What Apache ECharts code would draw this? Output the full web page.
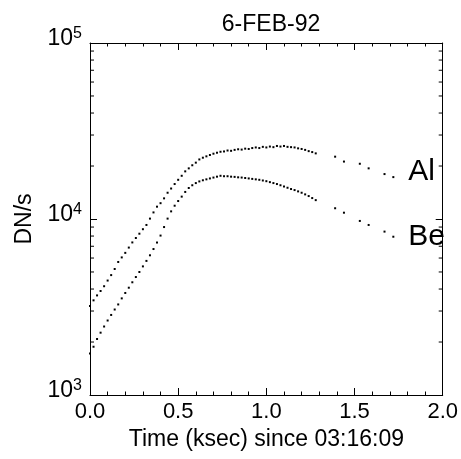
<!DOCTYPE html>
<html>
<head>
<meta charset="utf-8">
<script src="https://cdn.jsdelivr.net/npm/echarts@6/dist/echarts.min.js"></script>
<style>
html,body{margin:0;padding:0;background:#fff;}
#c{width:461px;height:459px;}
</style>
</head>
<body>
<div id="c"></div>
<script>
// ---- data ----
var timeDense = [0.00,0.02,0.04,0.06,0.08,0.10,0.12,0.14,0.16,0.18,0.20,0.22,0.24,0.26,0.28,0.30,0.32,0.34,0.36,0.38,0.40,0.42,0.44,0.46,0.48,0.50,0.52,0.54,0.56,0.58,0.60,0.62,0.64,0.66,0.68,0.70,0.72,0.74,0.76,0.78,0.80,0.82,0.84,0.86,0.88,0.90,0.92,0.94,0.96,0.98,1.00,1.02,1.04,1.06,1.08,1.10,1.12,1.14,1.16,1.18,1.20,1.22,1.24,1.26,1.28];
var timeSparse = [1.39,1.44,1.53,1.58,1.67,1.72];
var alDense = [3200,3450,3680,3900,4150,4470,4800,5200,5700,6050,6420,6880,7360,7800,8250,8750,9250,10050,10900,11750,12300,13100,14100,14900,15800,16700,17600,18650,19400,20200,20900,21800,22300,22700,23100,23500,23800,24100,24200,24500,24400,24700,24900,24800,25100,25000,25300,25500,25300,25700,25500,25800,25600,26000,25800,26000,25700,25600,25500,25200,25000,24700,24300,24000,23600];
var alSparse = [22600,21200,20600,19400,18000,17300];
var beDense = [1720,1880,2080,2260,2450,2650,2850,3060,3270,3540,3800,4070,4370,4680,5000,5380,5780,6220,6750,7350,8050,9000,10050,11050,11900,12650,13400,14250,15000,15550,16000,16350,16600,16800,17000,17200,17400,17600,17500,17500,17400,17350,17250,17200,17100,17000,16900,16800,16700,16550,16400,16200,16000,15800,15550,15300,15050,14800,14600,14350,14100,13800,13500,13150,12800];
var beSparse = [11510,10860,9750,9250,8480,7930];
var seriesNames = ['Al','Be'];
var titleText = '6-FEB-92';
var xAxisTitle = 'Time (ksec) since 03:16:09';
var yAxisTitle = 'DN/s';
var xMin = 0, xMax = 2.0, xStep = 0.5;
var yMin = 1000, yMax = 100000;
var yMinorTickValues = [2000,3000,4000,5000,6000,7000,8000,9000,20000,30000,40000,50000,60000,70000,80000,90000];

// ---- build ----
function pairs(t, v) { var out = []; for (var i = 0; i < t.length; i++) out.push([t[i], v[i]]); return out; }
function withEndLabel(arr, name, offY) {
  var last = arr[arr.length - 1];
  arr[arr.length - 1] = {
    value: last,
    label: { show: true, formatter: name, position: 'right', distance: 14, offset: [0, offY],
             fontSize: 30, color: '#000', opacity: 1, fontFamily: 'Liberation Sans' }
  };
  return arr;
}
var alData = withEndLabel(pairs(timeDense.concat(timeSparse), alDense.concat(alSparse)), seriesNames[0], -5);
var beData = withEndLabel(pairs(timeDense.concat(timeSparse), beDense.concat(beSparse)), seriesNames[1], 0);

var FONT = 'Liberation Sans';
var black = '#000';
var chart = echarts.init(document.getElementById('c'), null, { renderer: 'canvas' });

function xAx(pos, showLabels) {
  return {
    type: 'value', position: pos, min: xMin, max: xMax, interval: xStep,
    axisLine: { show: true, onZero: false, lineStyle: { color: black, width: 1 } },
    axisTick: { show: true, inside: true, length: 7, lineStyle: { color: black } },
    minorTick: { show: true, splitNumber: 5, length: 3.5, lineStyle: { color: black } },
    splitLine: { show: false }, minorSplitLine: { show: false },
    axisLabel: { show: showLabels, color: black, fontSize: 22, fontFamily: FONT, margin: 6,
                 formatter: function (v) { return v.toFixed(1); } },
    name: showLabels ? xAxisTitle : '', nameLocation: 'middle', nameGap: 25,
    nameTextStyle: { color: black, fontSize: 23, fontFamily: FONT, verticalAlign: 'top' }
  };
}
function yAx(pos, showLabels) {
  return {
    type: 'log', logBase: 10, position: pos, min: yMin, max: yMax,
    axisLine: { show: true, onZero: false, lineStyle: { color: black, width: 1 } },
    axisTick: { show: true, inside: true, length: 7, lineStyle: { color: black } },
    minorTick: { show: false }, splitLine: { show: false },
    axisLabel: { show: showLabels, color: black, margin: 8, padding: [0, 0, 10, 0],
      formatter: function (v) {
        var e = Math.round(Math.log(v) / Math.LN10);
        return '{b|10}{s|' + e + '}';
      },
      rich: {
        b: { fontSize: 23, fontFamily: FONT, color: black, lineHeight: 24, verticalAlign: 'bottom' },
        s: { fontSize: 16, fontFamily: FONT, color: black, lineHeight: 24, verticalAlign: 'top', padding: [0, 0, 8, 0] }
      }
    },
    name: showLabels ? yAxisTitle : '', nameLocation: 'middle', nameGap: 51, nameRotate: 90,
    nameTextStyle: { color: black, fontSize: 23, fontFamily: FONT }
  };
}

var option = {
  animation: false,
  backgroundColor: '#fff',
  title: {
    text: titleText, left: 266, top: 8, textAlign: 'center',
    textStyle: { color: black, fontSize: 23, fontWeight: 'normal', fontFamily: FONT }
  },
  grid: { left: 90, right: 18, top: 43, bottom: 64, containLabel: false },
  xAxis: [xAx('bottom', true), xAx('top', false)],
  yAxis: [yAx('left', true), yAx('right', false)],
  series: [
    {
      name: 'minor-y-ticks', type: 'custom', xAxisIndex: 0, yAxisIndex: 0, silent: true, clip: false,
      data: yMinorTickValues.map(function (v) { return [xMin, v]; }),
      renderItem: function (params, api) {
        var v = api.value(1);
        var pL = api.coord([xMin, v]);
        var pR = api.coord([xMax, v]);
        return {
          type: 'group',
          children: [
            { type: 'line', shape: { x1: pL[0], y1: pL[1], x2: pL[0] + 4, y2: pL[1] }, style: { stroke: black, lineWidth: 1 } },
            { type: 'line', shape: { x1: pR[0] - 4, y1: pR[1], x2: pR[0], y2: pR[1] }, style: { stroke: black, lineWidth: 1 } }
          ]
        };
      }
    },
    {
      name: seriesNames[0], type: 'scatter', xAxisIndex: 0, yAxisIndex: 0,
      symbol: 'rect', symbolSize: 2, itemStyle: { color: black, opacity: 1 }, data: alData
    },
    {
      name: seriesNames[1], type: 'scatter', xAxisIndex: 0, yAxisIndex: 0,
      symbol: 'rect', symbolSize: 2, itemStyle: { color: black, opacity: 1 }, data: beData
    }
  ]
};
chart.setOption(option);
</script>
</body>
</html>
